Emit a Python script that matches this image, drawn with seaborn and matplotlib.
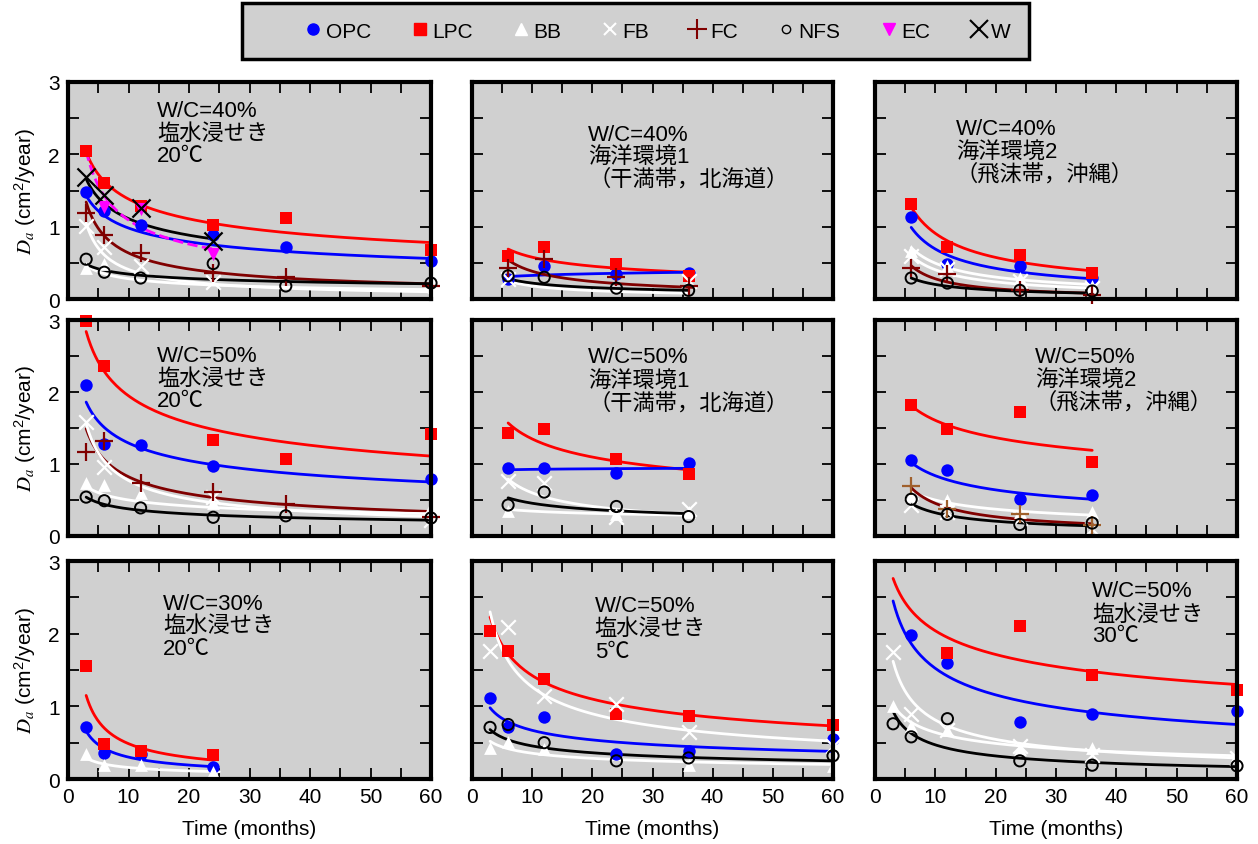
import numpy as np
import pandas as pd
import matplotlib
matplotlib.use("Agg")
import matplotlib.pyplot as plt
import seaborn as sns
from matplotlib.lines import Line2D
from matplotlib.patches import Rectangle
from matplotlib.ticker import MultipleLocator

nan = np.nan

# ---------------- data ----------------
series_names = ["OPC", "LPC", "BB", "FB", "FC", "NFS", "EC", "W"]

# Panel 1: W/C=40%, salt-water immersion, 20C
p1_t = [3, 6, 12, 24, 36, 60]
p1_OPC = [1.48, 1.22, 1.02, 0.89, 0.72, 0.52]
p1_LPC = [2.05, 1.61, 1.29, 1.02, 1.12, 0.68]
p1_BB = [0.43, 0.48, nan, nan, nan, nan]
p1_FB = [1.01, 0.72, 0.45, 0.23, nan, 0.05]
p1_FC = [1.19, 0.89, 0.63, 0.36, 0.31, 0.18]
p1_NFS = [0.55, 0.37, 0.29, 0.49, 0.18, 0.22]
p1_EC = [nan, 1.27, 1.24, 0.62, nan, nan]
p1_W = [1.68, 1.44, 1.26, 0.80, nan, nan]
# fitted curves: (t_start, t_end, D_start, D_end)
p1_fit = {"LPC": (3, 60, 2.03, 0.78), "OPC": (3, 60, 1.43, 0.56),
          "W": (3, 24, 1.66, 0.83), "EC": (3, 24, 2.05, 0.69),
          "FC": (3, 60, 1.34, 0.21), "FB": (3, 60, 1.05, 0.10),
          "BB": (3, 60, 0.47, 0.13), "NFS": (3, 60, 0.48, 0.21)}

# Panel 2: W/C=40%, marine 1
p2_t = [6, 12, 24, 36]
p2_OPC = [0.28, 0.45, 0.35, 0.36]
p2_LPC = [0.59, 0.72, 0.48, 0.32]
p2_FB = [0.28, nan, nan, 0.25]
p2_FC = [0.43, 0.55, 0.30, 0.18]
p2_NFS = [0.32, 0.30, 0.15, 0.12]
p2_fit = {"LPC": (6, 36, 0.69, 0.37), "OPC": (6, 36, 0.31, 0.37),
          "FC": (6, 37, 0.54, 0.16), "FB": (6, 36, 0.25, 0.08),
          "NFS": (6, 36, 0.28, 0.12)}

# Panel 3: W/C=40%, marine 2
p3_t = [6, 12, 24, 36]
p3_OPC = [1.14, 0.49, 0.45, 0.29]
p3_LPC = [1.32, 0.72, 0.61, 0.36]
p3_BB = [0.66, 0.45, 0.29, 0.18]
p3_FB = [0.60, 0.41, 0.25, 0.15]
p3_FC = [0.43, 0.34, 0.12, 0.06]
p3_NFS = [0.29, 0.22, 0.12, 0.11]
p3_fit = {"LPC": (6, 36, 1.27, 0.39), "OPC": (6, 36, 0.99, 0.28),
          "BB": (6, 36, 0.71, 0.20), "FB": (6, 36, 0.60, 0.15),
          "FC": (6, 36, 0.46, 0.08), "NFS": (6, 36, 0.29, 0.08)}

# Panel 4: W/C=50%, salt-water immersion, 20C
p4_t = [3, 6, 12, 24, 36, 60]
p4_OPC = [2.10, 1.28, 1.27, 0.97, nan, 0.79]
p4_LPC = [2.99, 2.36, nan, 1.33, 1.07, 1.42]
p4_BB = [0.73, 0.71, 0.60, 0.46, nan, 0.40]
p4_FB = [1.59, 0.96, nan, 0.54, nan, 0.22]
p4_FC = [1.17, 1.32, 0.73, 0.61, 0.44, 0.26]
p4_NFS = [0.54, 0.49, 0.39, 0.26, 0.28, 0.25]
p4_fit = {"LPC": (3, 60, 2.84, 1.11), "OPC": (3, 60, 1.86, 0.75),
          "FC": (3, 60, 1.49, 0.34), "FB": (3, 60, 1.56, 0.27),
          "BB": (3, 60, 0.69, 0.31), "NFS": (3, 60, 0.54, 0.22)}

# Panel 5: W/C=50%, marine 1
p5_t = [6, 12, 24, 36]
p5_OPC = [0.94, 0.95, 0.87, 1.02]
p5_LPC = [1.43, 1.48, 1.07, 0.86]
p5_BB = [0.35, nan, 0.30, 0.33]
p5_FB = [0.77, 0.74, 0.26, 0.37]
p5_NFS = [0.43, 0.61, 0.41, 0.27]
p5_fit = {"LPC": (6, 36, 1.57, 0.92), "OPC": (6, 36, 0.92, 0.94),
          "FB": (6, 36, 0.79, 0.30), "BB": (6, 36, 0.37, 0.29),
          "NFS": (6, 36, 0.53, 0.31)}

# Panel 6: W/C=50%, marine 2
p6_t = [6, 12, 24, 36]
p6_OPC = [1.05, 0.91, 0.52, 0.57]
p6_LPC = [1.82, 1.49, 1.72, 1.03]
p6_BB = [0.55, 0.50, 0.34, 0.34]
p6_FB = [0.43, 0.33, 0.25, 0.10]
p6_FC = [0.70, 0.38, 0.30, 0.15]
p6_NFS = [0.51, 0.30, 0.16, 0.18]
p6_fit = {"LPC": (6, 36, 1.81, 1.19), "OPC": (6, 36, 1.02, 0.51),
          "BB": (6, 36, 0.62, 0.29), "FC": (6, 36, 0.67, 0.17),
          "NFS": (6, 36, 0.45, 0.14)}

# Panel 7: W/C=30%, salt-water immersion, 20C
p7_t = [3, 6, 12, 24]
p7_OPC = [0.71, 0.36, 0.35, 0.16]
p7_LPC = [1.56, 0.48, 0.38, 0.33]
p7_BB = [0.34, 0.19, 0.19, 0.09]
p7_fit = {"LPC": (3, 24, 1.15, 0.26), "OPC": (3, 24, 0.66, 0.17),
          "BB": (3, 25, 0.29, 0.10)}

# Panel 8: W/C=50%, salt-water immersion, 5C
p8_t = [3, 6, 12, 24, 36, 60]
p8_OPC = [1.11, 0.72, 0.86, 0.35, 0.38, 0.55]
p8_LPC = [2.04, 1.76, 1.37, 0.89, 0.87, 0.74]
p8_BB = [0.43, 0.51, 0.41, nan, 0.19, 0.18]
p8_FB = [1.76, 2.09, 1.14, 1.03, 0.64, 0.45]
p8_NFS = [0.71, 0.75, 0.50, 0.25, 0.29, 0.32]
p8_fit = {"LPC": (3, 60, 2.23, 0.73), "FB": (3, 60, 2.30, 0.52),
          "OPC": (3, 60, 0.98, 0.38), "NFS": (3, 60, 0.68, 0.25),
          "BB": (3, 60, 0.52, 0.20)}

# Panel 9: W/C=50%, salt-water immersion, 30C
p9_t = [3, 6, 12, 24, 36, 60]
p9_OPC = [nan, 1.98, 1.60, 0.79, 0.89, 0.93]
p9_LPC = [nan, nan, 1.74, 2.10, 1.43, 1.22]
p9_BB = [1.00, 0.73, 0.68, 0.41, 0.42, 0.33]
p9_FB = [1.75, 0.89, 0.67, 0.45, 0.33, 0.29]
p9_NFS = [0.76, 0.58, 0.83, 0.25, 0.19, 0.18]
p9_fit = {"LPC": (3, 60, 2.76, 1.30), "OPC": (3, 60, 2.45, 0.75),
          "FB": (3, 60, 1.62, 0.29), "BB": (3, 60, 1.02, 0.32),
          "NFS": (3, 60, 0.93, 0.17)}

# panel annotations
p1_text = ["W/C=40%", "塩水浸せき", "20℃"]
p2_text = ["W/C=40%", "海洋環境1", "（干満帯，北海道）"]
p3_text = ["W/C=40%", "海洋環境2", "（飛沫帯，沖縄）"]
p4_text = ["W/C=50%", "塩水浸せき", "20℃"]
p5_text = ["W/C=50%", "海洋環境1", "（干満帯，北海道）"]
p6_text = ["W/C=50%", "海洋環境2", "（飛沫帯，沖縄）"]
p7_text = ["W/C=30%", "塩水浸せき", "20℃"]
p8_text = ["W/C=50%", "塩水浸せき", "5℃"]
p9_text = ["W/C=50%", "塩水浸せき", "30℃"]

x_ticks = [0, 10, 20, 30, 40, 50, 60]
y_ticks = [0, 1, 2, 3]
x_label = "Time (months)"
y_label = r"$D_a$ (cm$\mathregular{^2}$/year)"

# ---------------- style ----------------
sns.set_style("ticks")
FAM = ["Liberation Sans", "Noto Sans CJK JP", "DejaVu Sans"]
plt.rcParams["font.family"] = FAM
plt.rcParams["mathtext.fontset"] = "stix"
for key in ["text.color", "axes.labelcolor", "xtick.color", "ytick.color",
            "xtick.labelcolor", "ytick.labelcolor"]:
    plt.rcParams[key] = "black"
BG = "#d0d0d0"

STY = {
    "OPC": dict(marker="o", color="#0000ff", s=80, edge="#0000ff", lw=0),
    "LPC": dict(marker="s", color="#ff0000", s=70, edge="#ff0000", lw=0),
    "BB": dict(marker="^", color="white", s=85, edge="white", lw=0),
    "FB": dict(marker="x", color="white", s=110, edge=None, lw=1.6),
    "FC": dict(marker="+", color="#800000", s=170, edge=None, lw=1.6),
    "NFS": dict(marker="o", color="black", s=65, edge="black", lw=1.4, open=True),
    "EC": dict(marker="v", color="#ff00ff", s=90, edge="#ff00ff", lw=0),
    "W": dict(marker="x", color="black", s=170, edge=None, lw=1.6),
}
LINE_COL = {"OPC": "#0000ff", "LPC": "#ff0000", "BB": "white", "FB": "white",
            "FC": "#800000", "NFS": "black", "EC": "#ff00ff", "W": "black"}

W_PX, H_PX = 1258, 845
fig = plt.figure(figsize=(W_PX / 100, H_PX / 100), dpi=100)

col_px = [(68, 431), (472, 833), (875, 1237)]
row_px = [(83, 300), (321, 537), (562, 780)]

panels = [
    (p1_t, {"OPC": p1_OPC, "LPC": p1_LPC, "BB": p1_BB, "FB": p1_FB, "FC": p1_FC,
            "NFS": p1_NFS, "EC": p1_EC, "W": p1_W}, p1_fit, p1_text, 14.7, [2.60, 2.29, 1.98]),
    (p2_t, {"OPC": p2_OPC, "LPC": p2_LPC, "FB": p2_FB, "FC": p2_FC, "NFS": p2_NFS},
     p2_fit, p2_text, 19.3, [2.28, 1.97, 1.66]),
    (p3_t, {"OPC": p3_OPC, "LPC": p3_LPC, "BB": p3_BB, "FB": p3_FB, "FC": p3_FC, "NFS": p3_NFS},
     p3_fit, p3_text, 13.4, [2.36, 2.04, 1.73]),
    (p4_t, {"OPC": p4_OPC, "LPC": p4_LPC, "BB": p4_BB, "FB": p4_FB, "FC": p4_FC, "NFS": p4_NFS},
     p4_fit, p4_text, 14.7, [2.51, 2.19, 1.88]),
    (p5_t, {"OPC": p5_OPC, "LPC": p5_LPC, "BB": p5_BB, "FB": p5_FB, "NFS": p5_NFS},
     p5_fit, p5_text, 19.3, [2.49, 2.16, 1.85]),
    (p6_t, {"OPC": p6_OPC, "LPC": p6_LPC, "BB": p6_BB, "FB": p6_FB, "FC": p6_FC, "NFS": p6_NFS},
     p6_fit, p6_text, 26.5, [2.49, 2.17, 1.86]),
    (p7_t, {"OPC": p7_OPC, "LPC": p7_LPC, "BB": p7_BB}, p7_fit, p7_text, 15.7, [2.41, 2.11, 1.79]),
    (p8_t, {"OPC": p8_OPC, "LPC": p8_LPC, "BB": p8_BB, "FB": p8_FB, "NFS": p8_NFS},
     p8_fit, p8_text, 20.4, [2.39, 2.07, 1.75]),
    (p9_t, {"OPC": p9_OPC, "LPC": p9_LPC, "BB": p9_BB, "FB": p9_FB, "NFS": p9_NFS},
     p9_fit, p9_text, 36.0, [2.59, 2.27, 1.97]),
]

for i, (t, pts, fits, text, tx, tys) in enumerate(panels):
    r, c = divmod(i, 3)
    (x0, x1), (y0, y1) = col_px[c], row_px[r]
    ax = fig.add_axes([x0 / W_PX, 1 - y1 / H_PX, (x1 - x0) / W_PX, (y1 - y0) / H_PX])
    ax.set_facecolor(BG)

    # fitted power-law curves
    for s, (ta, tb, da, db) in fits.items():
        tt = np.linspace(ta, tb, 150)
        k = np.log(db / da) / np.log(tb / ta)
        dd = da * (tt / ta) ** k
        sns.lineplot(x=tt, y=dd, ax=ax, color=LINE_COL[s], linewidth=2,
                     linestyle="--" if s == "EC" else "-", estimator=None,
                     sort=False, zorder=2, legend=False)

    # measured points
    for s in series_names:
        if s not in pts:
            continue
        df = pd.DataFrame({"t": t, "D": pts[s]}).dropna()
        st = STY[s]
        col = st["color"]
        if i == 5 and s == "FC":
            col = "#a0602c"
        kw = dict(marker=st["marker"], s=st["s"], linewidth=st["lw"], zorder=3,
                  legend=False, clip_on=False)
        if st.get("open"):
            kw.update(facecolor="none", edgecolor=col)
        elif st["edge"] is not None:
            kw.update(edgecolor=col)
        sns.scatterplot(data=df, x="t", y="D", ax=ax, color=col, **kw)

    # annotation text
    for line, yy in zip(text, tys):
        ax.text(tx, yy, line, family=FAM, fontsize=16, va="center", ha="left",
                color="black", zorder=5)

    ax.set_xlim(0, 60)
    ax.set_ylim(0, 3)
    ax.set_xticks(x_ticks)
    ax.set_yticks(y_ticks)
    ax.xaxis.set_minor_locator(MultipleLocator(5))
    ax.yaxis.set_minor_locator(MultipleLocator(0.5))
    ax.tick_params(which="both", direction="in", top=True, right=True,
                   length=8, width=1.3, color="black", labelcolor="black")
    ax.tick_params(which="major", labelsize=15, pad=6)
    for sp in ax.spines.values():
        sp.set_linewidth(3)
        sp.set_color("black")
        sp.set_visible(True)
        sp.set_zorder(6)
    if c == 0:
        ax.set_ylabel(y_label, fontsize=15, labelpad=7, color="black")
    else:
        ax.set_ylabel("")
        ax.tick_params(labelleft=False)
    if r == 2:
        ax.set_xlabel(x_label, fontsize=15, labelpad=9, color="black")
    else:
        ax.set_xlabel("")
        ax.tick_params(labelbottom=False)

# ---------------- legend ----------------
fig.patches.append(Rectangle((242 / W_PX, 1 - 60 / H_PX), 787 / W_PX, 56 / H_PX,
                             transform=fig.transFigure, facecolor=BG,
                             edgecolor="black", linewidth=2.5, zorder=0))
handles = [
    Line2D([], [], ls="none", marker="o", color="#0000ff", markersize=8),
    Line2D([], [], ls="none", marker="s", color="#ff0000", markersize=8),
    Line2D([], [], ls="none", marker="^", color="white", markersize=9),
    Line2D([], [], ls="none", marker="x", color="white", markersize=9, mew=1.5),
    Line2D([], [], ls="none", marker="+", color="#800000", markersize=14, mew=1.5),
    Line2D([], [], ls="none", marker="o", mfc="none", mec="black", markersize=6, mew=1.0),
    Line2D([], [], ls="none", marker="v", color="#ff00ff", markersize=9),
    Line2D([], [], ls="none", marker="x", color="black", markersize=13, mew=1.5),
]
leg = fig.legend(handles, series_names, loc="center", bbox_to_anchor=(657 / W_PX, 1 - 32 / H_PX),
                 ncol=8, frameon=False, handlelength=1.0, handletextpad=0.1,
                 columnspacing=1.82, prop={"family": "Liberation Sans", "size": 15})
for txt in leg.get_texts():
    txt.set_color("black")

fig.savefig("out.png", dpi=100, facecolor="white")
